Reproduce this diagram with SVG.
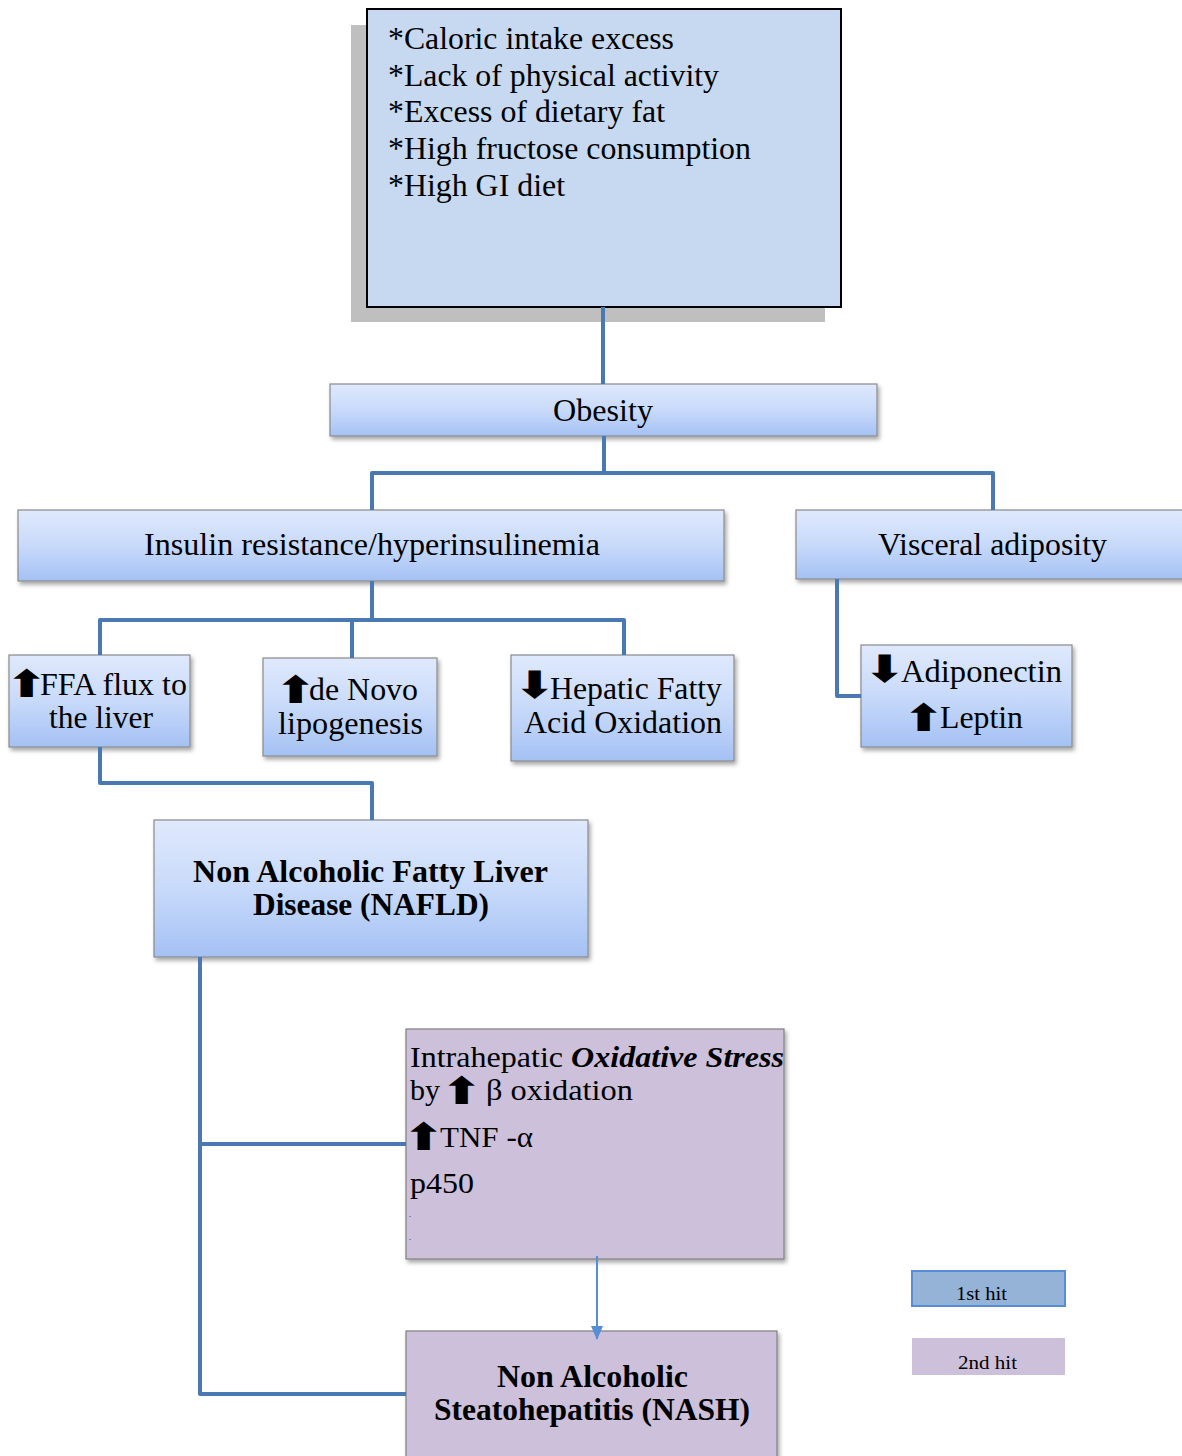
<svg xmlns="http://www.w3.org/2000/svg" width="1182" height="1456" viewBox="0 0 1182 1456">
<defs>
<linearGradient id="gBlue" x1="0" y1="0" x2="0" y2="1">
<stop offset="0" stop-color="#dfe9fc"/>
<stop offset="0.5" stop-color="#c8dafa"/>
<stop offset="1" stop-color="#a4c1f4"/>
</linearGradient>
<filter id="sh" x="-10%" y="-10%" width="130%" height="140%">
<feDropShadow dx="2" dy="3" stdDeviation="2" flood-color="#000" flood-opacity="0.35"/>
</filter>
<marker id="ah" markerWidth="14" markerHeight="12" refX="13" refY="6" orient="auto" markerUnits="userSpaceOnUse" viewBox="0 0 14 12">
<path d="M0,0 L14,6 L0,12 Z" fill="#558ed5"/>
</marker>
</defs>
<style>
.t{font-family:"Liberation Serif","Times New Roman",serif;fill:#000}
.b{font-weight:bold}
.arw{font-family:"DejaVu Sans",sans-serif;font-weight:bold;fill:#000;font-size:26px;letter-spacing:-21px}
.box{fill:url(#gBlue);stroke:#8a8a8a;stroke-width:1.2;filter:url(#sh)}
.pbox{fill:#ccc0da;stroke:#7f7f7f;stroke-width:1.2;filter:url(#sh)}
.con{fill:none;stroke:#4a78b2;stroke-width:4;stroke-linejoin:round}
</style>

<g id="risk-factors">
<rect x="351" y="25" width="474" height="297" fill="#bfbfbf"/>
<rect x="367" y="9" width="474" height="298" fill="#c6d9f0" stroke="#000" stroke-width="2"/>
<text class="t" font-size="31" x="388" y="49" textLength="286" lengthAdjust="spacingAndGlyphs">*Caloric intake excess</text>
<text class="t" font-size="31" x="388" y="86" textLength="331" lengthAdjust="spacingAndGlyphs">*Lack of physical activity</text>
<text class="t" font-size="31" x="388" y="122" textLength="277" lengthAdjust="spacingAndGlyphs">*Excess of dietary fat</text>
<text class="t" font-size="31" x="388" y="159" textLength="363" lengthAdjust="spacingAndGlyphs">*High fructose consumption</text>
<text class="t" font-size="31" x="388" y="196" textLength="177" lengthAdjust="spacingAndGlyphs">*High GI diet</text>
</g>

<g id="obesity">
<rect class="box" x="330" y="384" width="547" height="52"/>
<text class="t" font-size="31" x="553" y="421" textLength="100" lengthAdjust="spacingAndGlyphs">Obesity</text>
</g>

<g id="insulin">
<rect class="box" x="18" y="510" width="706" height="71"/>
<text class="t" font-size="31" x="144" y="555" textLength="456" lengthAdjust="spacingAndGlyphs">Insulin resistance/hyperinsulinemia</text>
</g>

<g id="visceral">
<rect class="box" x="796" y="510" width="400" height="69"/>
<text class="t" font-size="31" x="878" y="555" textLength="229" lengthAdjust="spacingAndGlyphs">Visceral adiposity</text>
</g>

<g id="ffa">
<rect class="box" x="9" y="655" width="181" height="92"/>
<text class="arw" transform="translate(6,697) scale(1.9,1.45)">⬆</text>
<text class="t" font-size="31" x="40" y="695" textLength="147" lengthAdjust="spacingAndGlyphs">FFA flux to</text>
<text class="t" font-size="31" x="49" y="728" textLength="104" lengthAdjust="spacingAndGlyphs">the liver</text>
</g>

<g id="denovo">
<rect class="box" x="263" y="658" width="174" height="98"/>
<text class="arw" transform="translate(275,703) scale(1.9,1.45)">⬆</text>
<text class="t" font-size="31" x="309" y="700" textLength="109" lengthAdjust="spacingAndGlyphs">de Novo</text>
<text class="t" font-size="31" x="278" y="734" textLength="145" lengthAdjust="spacingAndGlyphs">lipogenesis</text>
</g>

<g id="hepatic">
<rect class="box" x="511" y="655" width="223" height="106"/>
<text class="arw" transform="translate(514,698) scale(1.9,1.45)">⬇</text>
<text class="t" font-size="31" x="550" y="699" textLength="172" lengthAdjust="spacingAndGlyphs">Hepatic Fatty</text>
<text class="t" font-size="31" x="524" y="733" textLength="198" lengthAdjust="spacingAndGlyphs">Acid Oxidation</text>
</g>

<g id="adipokines">
<rect class="box" x="861" y="645" width="211" height="102"/>
<text class="arw" transform="translate(864,682) scale(1.9,1.45)">⬇</text>
<text class="t" font-size="31" x="901" y="682" textLength="161" lengthAdjust="spacingAndGlyphs">Adiponectin</text>
<text class="arw" transform="translate(903,731) scale(1.9,1.45)">⬆</text>
<text class="t" font-size="31" x="940" y="728" textLength="83" lengthAdjust="spacingAndGlyphs">Leptin</text>
</g>

<g id="nafld">
<rect class="box" x="154" y="820" width="434" height="137"/>
<text class="t b" font-size="31" x="193" y="882" textLength="355" lengthAdjust="spacingAndGlyphs">Non Alcoholic Fatty Liver</text>
<text class="t b" font-size="31" x="253" y="915" textLength="236" lengthAdjust="spacingAndGlyphs">Disease (NAFLD)</text>
</g>

<g id="oxidative-stress">
<rect class="pbox" x="406" y="1029" width="378" height="230"/>
<text class="t" font-size="30" x="410" y="1067" textLength="374" lengthAdjust="spacingAndGlyphs">Intrahepatic <tspan font-weight="bold" font-style="italic">Oxidative Stress</tspan></text>
<text class="t" font-size="30" x="410" y="1100">by</text>
<text class="arw" transform="translate(441,1104) scale(1.9,1.45)">⬆</text>
<text class="t" font-size="30" x="486" y="1100" textLength="147" lengthAdjust="spacingAndGlyphs">β oxidation</text>
<text class="arw" transform="translate(403,1150) scale(1.9,1.45)">⬆</text>
<text class="t" font-size="30" x="440" y="1147" textLength="93" lengthAdjust="spacingAndGlyphs">TNF -α</text>
<text class="t" font-size="30" x="410" y="1193" textLength="64" lengthAdjust="spacingAndGlyphs">p450</text>
<text class="t" font-size="8" x="409" y="1217">.</text>
<text class="t" font-size="8" x="409" y="1240">.</text>
</g>

<g id="nash">
<rect class="pbox" x="406" y="1331" width="371" height="135"/>
<text class="t b" font-size="31" x="497" y="1387" textLength="191" lengthAdjust="spacingAndGlyphs">Non Alcoholic</text>
<text class="t b" font-size="31" x="434" y="1420" textLength="316" lengthAdjust="spacingAndGlyphs">Steatohepatitis (NASH)</text>
</g>

<g id="legend-1st">
<rect x="912" y="1271" width="153" height="35" fill="#95b3d7" stroke="#558ed5" stroke-width="2"/>
<text class="t" font-size="19" x="956" y="1300" textLength="51" lengthAdjust="spacingAndGlyphs">1st hit</text>
</g>
<g id="legend-2nd">
<rect x="912" y="1338" width="153" height="37" fill="#ccc0da"/>
<text class="t" font-size="19" x="958" y="1369" textLength="59" lengthAdjust="spacingAndGlyphs">2nd hit</text>
</g>

<g id="connectors">
<path class="con" d="M603 307 V384"/>
<path class="con" d="M604 436 V473"/>
<path class="con" d="M372 510 V473 H993 V510"/>
<path class="con" d="M372 581 V620"/>
<path class="con" d="M100 655 V620 H624 V655"/>
<path class="con" d="M352 620 V658"/>
<path class="con" d="M837 579 V696 H861"/>
<path class="con" d="M100 747 V783 H372 V820"/>
<path class="con" d="M200 957 V1394 H406"/>
<path class="con" d="M200 1144 H406"/>
<path d="M597 1256 V1339" fill="none" stroke="#558ed5" stroke-width="2" marker-end="url(#ah)"/>
</g>
</svg>
